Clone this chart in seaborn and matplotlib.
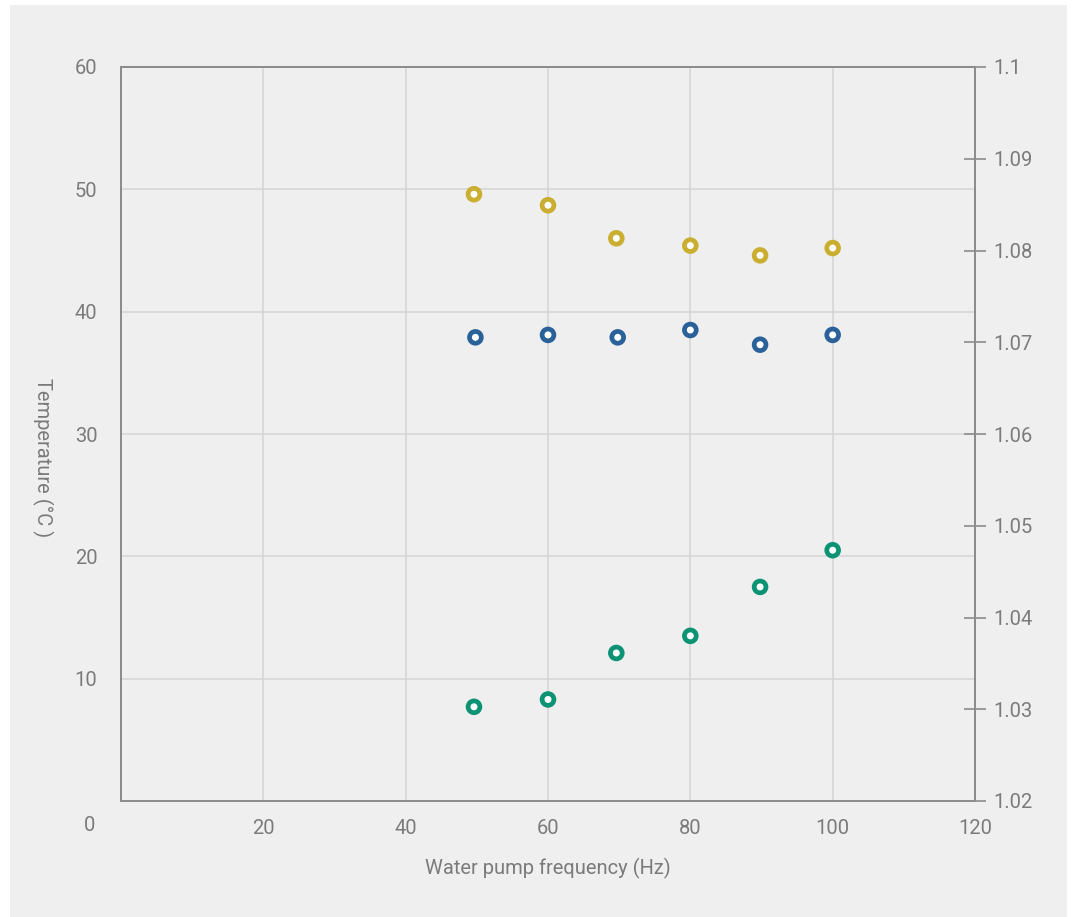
import matplotlib
matplotlib.use("Agg")
import matplotlib.pyplot as plt
from matplotlib import font_manager
from matplotlib.patches import Rectangle
import seaborn as sns
import pandas as pd

# ---- data ----
freq_yellow = [49.6, 60.0, 69.6, 80.0, 89.8, 100.0]
temp_yellow = [49.6, 48.7, 46.0, 45.4, 44.6, 45.2]
freq_blue = [49.8, 60.0, 69.8, 80.0, 89.8, 100.0]
temp_blue = [37.9, 38.1, 37.9, 38.5, 37.3, 38.1]
freq_green = [49.6, 60.0, 69.6, 80.0, 89.8, 100.0]
temp_green = [7.7, 8.3, 12.1, 13.5, 17.5, 20.5]
series_names = ["Series A", "Series B", "Series C"]
series_colors = ["#c9ae2f", "#2b6199", "#0b9374"]

x_ticks = [20, 40, 60, 80, 100, 120]
y_ticks = [10, 20, 30, 40, 50, 60]
y2_ticks = [1.02, 1.03, 1.04, 1.05, 1.06, 1.07, 1.08, 1.09, 1.1]
y2_labels = ["1.02", "1.03", "1.04", "1.05", "1.06", "1.07", "1.08", "1.09", "1.1"]
x_label = "Water pump frequency (Hz)"
y_label = "Temperature (°C )"

df = pd.DataFrame({
    "freq": freq_yellow + freq_blue + freq_green,
    "temp": temp_yellow + temp_blue + temp_green,
    "series": [series_names[0]] * len(freq_yellow) + [series_names[1]] * len(freq_blue)
              + [series_names[2]] * len(freq_green),
})

sns.set_theme(style="white")
avail = {f.name for f in font_manager.fontManager.ttflist}
fam = "Liberation Sans Narrow" if "Liberation Sans Narrow" in avail else "Roboto"
plt.rcParams["font.family"] = [fam, "DejaVu Sans"]

txt = "#7b7b7b"
spine_c = "#8c8c8c"
grid_c = "#d6d6d6"
bg = "#efefef"
fs = 14.5

fig = plt.figure(figsize=(10.77, 9.17), dpi=100, facecolor="white")
bgrect = Rectangle((10 / 1077, 0), 1057 / 1077, 912 / 917, transform=fig.transFigure,
                   facecolor=bg, edgecolor="none", zorder=-10)
fig.add_artist(bgrect)

ax = fig.add_axes([121 / 1077, 116 / 917, 854 / 1077, 734 / 917])
ax.set_facecolor(bg)

sns.scatterplot(data=df, x="freq", y="temp", hue="series", palette=series_colors,
                ax=ax, s=72, marker="o", linewidth=3.4, legend=False, zorder=3)
for coll in ax.collections:
    ec = coll.get_facecolor()
    coll.set_edgecolor(ec)
    coll.set_facecolor("white")

ax.set_xlim(0, 120)
ax.set_ylim(0, 60)
ax.set_xticks(x_ticks)
ax.set_yticks(y_ticks)
ax.grid(True, color=grid_c, linewidth=1.2)
ax.set_axisbelow(True)
ax.tick_params(axis="both", length=0, labelsize=fs, colors=txt)
ax.tick_params(axis="y", pad=17)
ax.tick_params(axis="x", pad=13)
for sp in ax.spines.values():
    sp.set_color(spine_c)
    sp.set_linewidth(1.3)
ax.set_xlabel(x_label, fontsize=fs, color=txt, labelpad=14)
ax.set_ylabel(y_label, fontsize=fs, color=txt, rotation=270, va="bottom")
ax.yaxis.set_label_coords(-0.104, 0.468)
ax.text(-0.037, -0.034, "0", transform=ax.transAxes, fontsize=fs, color=txt,
        ha="center", va="center")

ax2 = ax.twinx()
ax2.set_ylim(1.02, 1.1)
ax2.set_yticks(y2_ticks)
ax2.set_yticklabels(y2_labels)
ax2.tick_params(axis="y", direction="inout", length=16, width=1.2, color=spine_c,
                labelsize=fs, labelcolor=txt, pad=5)
for sp in ax2.spines.values():
    sp.set_color(spine_c)
    sp.set_linewidth(1.3)

fig.savefig("out.png", dpi=100, facecolor=fig.get_facecolor())
